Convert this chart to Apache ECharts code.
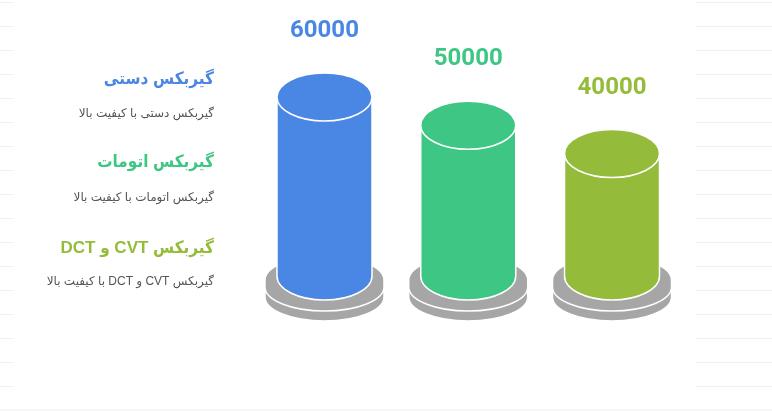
<!DOCTYPE html>
<html><head><meta charset="utf-8">
<script src="https://cdn.jsdelivr.net/npm/echarts@6/dist/echarts.min.js"></script>
<style>html,body{margin:0;padding:0;background:#fff}#c{width:772px;height:412px}</style>
</head><body><div id="c"></div>
<script>
const categories = ['گیربکس دستی', 'گیربکس اتومات', 'گیربکس CVT و DCT'];
const values = [60000, 50000, 40000];
const colors = ['#4A86E4', '#3DC684', '#94BC3A'];
const titles = ['گیربکس دستی', 'گیربکس اتومات', 'گیربکس CVT و DCT'];
const subtitles = ['گیربکس دستی با کیفیت بالا', 'گیربکس اتومات با کیفیت بالا', 'گیربکس CVT و DCT با کیفیت بالا'];

const RLE = '\u202B', PDF = '\u202C';
const chart = echarts.init(document.getElementById('c'), null, {renderer: 'canvas'});

function discPath(cx, t, b, r, ry) {
  return 'M' + (cx - r) + ' ' + t + ' L' + (cx - r) + ' ' + b +
    ' A' + r + ' ' + ry + ' 0 0 0 ' + (cx + r) + ' ' + b +
    ' L' + (cx + r) + ' ' + t +
    ' A' + r + ' ' + ry + ' 0 0 0 ' + (cx - r) + ' ' + t + ' Z';
}
function ellipsePath(cx, cy, r, ry) {
  return 'M' + (cx - r) + ' ' + cy +
    ' A' + r + ' ' + ry + ' 0 0 0 ' + (cx + r) + ' ' + cy +
    ' A' + r + ' ' + ry + ' 0 0 0 ' + (cx - r) + ' ' + cy + ' Z';
}

const deco = {
  yAxis: {min: 0, max: 16, interval: 1, axisLine: {show: false}, axisTick: {show: false}, axisLabel: {show: false},
    splitLine: {show: true, lineStyle: {color: '#f1f1f1', width: 1}}},
  xAxis: {type: 'value', min: 0, max: 1, show: false}
};

const graphic = [];
const titleY = [79, 162, 248];
const subY = [114, 198, 282];
titles.forEach((t, i) => {
  graphic.push({type: 'text', x: 214, y: titleY[i], style: {text: RLE + t + PDF, align: 'right', verticalAlign: 'middle',
    fill: colors[i], font: 'bold 17px "Liberation Sans", "DejaVu Sans Condensed", "DejaVu Sans", sans-serif'}});
  graphic.push({type: 'text', x: 214, y: subY[i], style: {text: RLE + subtitles[i] + PDF, align: 'right', verticalAlign: 'middle',
    fill: '#555555', font: '12px "Liberation Sans", "DejaVu Sans", sans-serif'}});
});
graphic.push({type: 'rect', shape: {x: 0, y: 409.5, width: 772, height: 1}, style: {fill: '#ececec'}});

chart.setOption({
  animation: false,
  backgroundColor: '#ffffff',
  grid: [
    {left: 252.6, right: 88.1, top: 40.5, bottom: 145.5},
    {left: 0, width: 14, top: 2.7, height: 384},
    {left: 696, right: 0, top: 2.7, height: 384}
  ],
  xAxis: [
    {type: 'category', data: categories, show: false, gridIndex: 0},
    Object.assign({gridIndex: 1}, deco.xAxis),
    Object.assign({gridIndex: 2}, deco.xAxis)
  ],
  yAxis: [
    {type: 'value', min: 0, max: 80000, show: false, gridIndex: 0},
    Object.assign({gridIndex: 1, type: 'value'}, deco.yAxis),
    Object.assign({gridIndex: 2, type: 'value'}, deco.yAxis)
  ],
  graphic: graphic,
  series: [{
    type: 'custom',
    xAxisIndex: 0, yAxisIndex: 0,
    data: values.map((v, i) => [i, v]),
    renderItem: function (params, api) {
      const i = params.dataIndex;
      const v = api.value(1);
      const top = api.coord([i, v]);
      const zero = api.coord([i, 0]);
      const cx = top[0];
      const rx = 47.5, ry = 24, brx = 59.5;
      const z0 = zero[1];
      const topCy = top[1];
      const botCy = z0 + 9.5;
      const col = colors[i];
      const bodyPath = 'M' + (cx - rx) + ' ' + topCy + ' L' + (cx - rx) + ' ' + botCy +
        ' A' + rx + ' ' + ry + ' 0 0 0 ' + (cx + rx) + ' ' + botCy +
        ' L' + (cx + rx) + ' ' + topCy + ' Z';
      return {type: 'group', children: [
        {type: 'path', shape: {pathData: discPath(cx, z0 + 23.5, z0 + 30.5, brx, ry)},
          style: {fill: '#a6a6a6', stroke: '#ffffff', lineWidth: 1.5}},
        {type: 'path', shape: {pathData: discPath(cx, z0 + 13.5, z0 + 20.5, brx, ry)},
          style: {fill: '#a6a6a6', stroke: '#ffffff', lineWidth: 1.5}},
        {type: 'path', shape: {pathData: bodyPath},
          style: {fill: col, stroke: '#ffffff', lineWidth: 1.5}},
        {type: 'path', shape: {pathData: ellipsePath(cx, topCy, rx, ry)},
          style: {fill: col, stroke: '#ffffff', lineWidth: 1.5}},
        {type: 'text', style: {text: String(v), x: cx, y: topCy - 66, align: 'center', verticalAlign: 'middle',
          fill: col, font: 'bold 24px Roboto, sans-serif'}}
      ]};
    }
  }]
});
</script>
</body></html>
